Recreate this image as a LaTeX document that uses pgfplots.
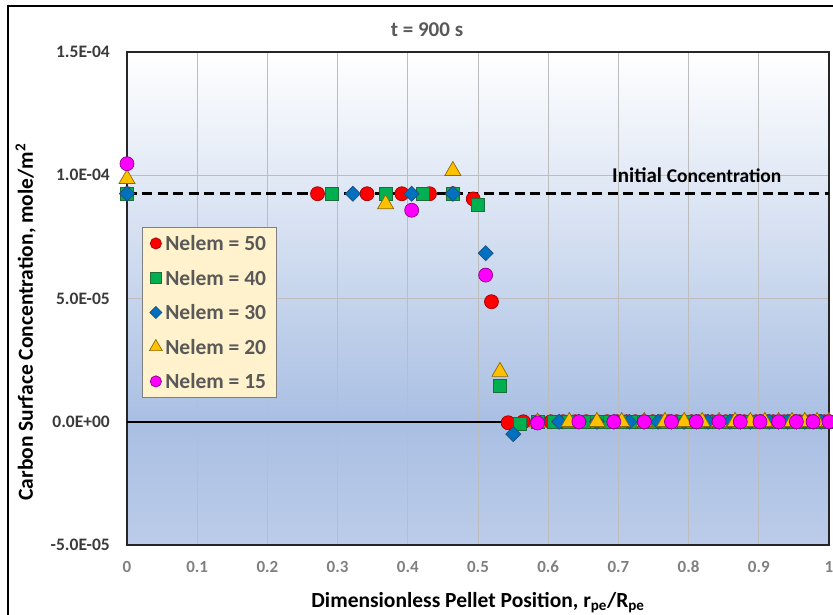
\documentclass[border=0pt]{standalone}
\usepackage{pgfplots}
\pgfplotsset{compat=1.18}
\usepackage{fontspec}
\setmainfont{Carlito}

\definecolor{bgbot}{HTML}{BCCCE9}
\definecolor{bgmid}{HTML}{A9BFE3}
\definecolor{gridgray}{HTML}{BDBDBD}
\definecolor{xtickgray}{HTML}{808080}
\definecolor{ytickgray}{HTML}{3A3A3A}
\definecolor{titlegray}{HTML}{595959}
\definecolor{legendfill}{HTML}{FFF2CC}
\definecolor{legenddraw}{HTML}{7F7F7F}
\definecolor{legendtext}{HTML}{595959}
\definecolor{mred}{HTML}{FF0000}
\definecolor{mredE}{HTML}{A00000}
\definecolor{mgreen}{HTML}{00B050}
\definecolor{mgreenE}{HTML}{1F6B3A}
\definecolor{mblue}{HTML}{0070C0}
\definecolor{mblueE}{HTML}{1F4E79}
\definecolor{myellow}{HTML}{FFC000}
\definecolor{myellowE}{HTML}{8A6A00}
\definecolor{mmag}{HTML}{FF00FF}
\definecolor{mmagE}{HTML}{8B008B}

% plot-area fill: white at the top, deepest blue near the zero line
\pgfdeclareverticalshading{plotbg}{100bp}{color(0bp)=(bgbot); color(25bp)=(bgbot); color(37.5bp)=(bgmid); color(75bp)=(white); color(100bp)=(white)}

\begin{document}
\begin{tikzpicture}
\path[use as bounding box] (-127pt,-69pt) rectangle (706pt,545pt);
\clip (-127pt,-69pt) rectangle (706pt,545pt);
% chart frame
\draw[line width=1.8pt] (-119pt,-120pt) -- (-119pt,539pt) -- (760pt,539pt);

\begin{axis}[
  scale only axis, width=702pt, height=493pt,
  at={(0,0)}, anchor=south west,
  xmin=0, xmax=1, ymin=-5e-5, ymax=1.5e-4,
  xtick={0,0.1,0.2,0.3,0.4,0.5,0.6,0.7,0.8,0.9,1},
  xticklabels={0,0.1,0.2,0.3,0.4,0.5,0.6,0.7,0.8,0.9,1},
  ytick={-5e-5,0,5e-5,1e-4,1.5e-4},
  yticklabels={-5.0E-05,0.0E+00,5.0E-05,1.0E-04,1.5E-04},
  scaled x ticks=false, scaled y ticks=false,
  major tick length=0pt,
  grid=major,
  major grid style={line width=0.8pt, color=gridgray},
  axis line style={line width=1.6pt, black!85},
  axis background/.style={shading=plotbg},
  xticklabel style={font=\fontsize{17}{20}\selectfont\bfseries, text=xtickgray, anchor=base, inner sep=0pt, yshift=-27pt},
  yticklabel style={font=\fontsize{17.5}{20}\selectfont\bfseries, text=ytickgray, anchor=east, inner sep=0pt, xshift=-17pt},
  clip=false,
  legend cell align=left,
  legend style={at={(0.0214,0.645)}, anchor=north west,
    fill=legendfill, draw=legenddraw, line width=0.8pt,
    font=\fontsize{21.5}{24}\selectfont\bfseries, text=legendtext,
    inner xsep=7pt, inner ysep=6.5pt, row sep=15.5pt,
    nodes={inner xsep=3pt, inner ysep=2pt, text height=15pt, text depth=0pt}},
  legend image code/.code={\path (-6pt,0pt) (6pt,0pt);
    \draw[#1, /tikz/every mark/.append style={scale=0.8}] plot coordinates {(0pt,0pt)};},
]

% zero line and initial concentration
\addplot[black, line width=2pt, forget plot] coordinates {(0,0) (1,0)};
\addplot[black, line width=3pt, dash pattern=on 10pt off 5.5pt, forget plot] coordinates {(0,9.25e-5) (1,9.25e-5)};

% Nelem = 50
\addplot[only marks, mark=*, mark size=7pt, mark options={fill=mred, draw=mredE, line width=0.7pt}] coordinates {
(0,9.25e-5) (0.2714,9.25e-5) (0.3420,9.25e-5) (0.3915,9.25e-5) (0.4309,9.25e-5)
(0.4642,9.25e-5) (0.4932,9.04e-5) (0.5192,4.87e-5) (0.5429,-4e-7) (0.5646,0)
(0.5848,0) (0.6037,0) (0.6214,0) (0.6383,0) (0.6542,0) (0.6694,0) (0.6840,0)
(0.6980,0) (0.7114,0) (0.7243,0) (0.7368,0) (0.7489,0) (0.7606,0) (0.7719,0)
(0.7830,0) (0.7937,0) (0.8041,0) (0.8143,0) (0.8243,0) (0.8340,0) (0.8434,0)
(0.8527,0) (0.8618,0) (0.8707,0) (0.8794,0) (0.8879,0) (0.8963,0) (0.9045,0)
(0.9126,0) (0.9205,0) (0.9283,0) (0.9360,0) (0.9435,0) (0.9510,0) (0.9583,0)
(0.9655,0) (0.9726,0) (0.9796,0) (0.9865,0) (0.9933,0) (1,0)};
\addlegendentry{Nelem = 50}

% Nelem = 40
\addplot[only marks, mark=square*, mark size=6.5pt, mark options={fill=mgreen, draw=mgreenE, line width=0.7pt}] coordinates {
(0,9.25e-5) (0.2924,9.25e-5) (0.3684,9.25e-5) (0.4217,9.25e-5) (0.4642,9.25e-5)
(0.5,8.79e-5) (0.5313,1.46e-5) (0.5593,-1.0e-6) (0.5848,0) (0.6082,0) (0.6300,0)
(0.6503,0) (0.6694,0) (0.6875,0) (0.7047,0) (0.7211,0) (0.7368,0) (0.7518,0)
(0.7663,0) (0.7802,0) (0.7937,0) (0.8067,0) (0.8193,0) (0.8316,0) (0.8434,0)
(0.8550,0) (0.8662,0) (0.8772,0) (0.8879,0) (0.8984,0) (0.9086,0) (0.9186,0)
(0.9283,0) (0.9379,0) (0.9473,0) (0.9565,0) (0.9655,0) (0.9743,0) (0.9830,0)
(0.9916,0) (1,0)};
\addlegendentry{Nelem = 40}

% Nelem = 30
\addplot[only marks, mark=square*, mark size=5.3pt, mark options={rotate=45, fill=mblue, draw=mblueE, line width=0.7pt}] coordinates {
(0,9.25e-5) (0.3218,9.25e-5) (0.4055,9.25e-5) (0.4642,9.25e-5) (0.5109,6.84e-5)
(0.5503,-5.0e-6) (0.5848,0) (0.6156,0) (0.6437,0) (0.6694,0) (0.6934,0)
(0.7158,0) (0.7368,0) (0.7566,0) (0.7756,0) (0.7937,0) (0.8109,0) (0.8277,0)
(0.8434,0) (0.8587,0) (0.8736,0) (0.8879,0) (0.9017,0) (0.9152,0) (0.9283,0)
(0.9410,0) (0.9535,0) (0.9655,0) (0.9773,0) (0.9888,0) (1,0)};
\addlegendentry{Nelem = 30}

% Nelem = 20
\addplot[only marks, mark=triangle*, mark size=9.3pt, mark options={fill=myellow, draw=myellowE, line width=0.7pt}] coordinates {
(0,9.85e-5) (0.3684,8.83e-5) (0.4642,1.018e-4) (0.5313,2.03e-5) (0.5848,-3e-7)
(0.6300,0) (0.6694,0) (0.7047,0) (0.7368,0) (0.7663,0) (0.7937,0) (0.8193,0)
(0.8434,0) (0.8662,0) (0.8879,0) (0.9086,0) (0.9283,0) (0.9473,0) (0.9655,0)
(0.9830,0) (1,0)};
\addlegendentry{Nelem = 20}

% Nelem = 15
\addplot[only marks, mark=*, mark size=7pt, mark options={fill=mmag, draw=mmagE, line width=0.7pt}] coordinates {
(0,1.047e-4) (0.4055,8.58e-5) (0.5109,5.95e-5) (0.5848,-5e-7) (0.6437,0)
(0.6934,0) (0.7368,0) (0.7756,0) (0.8109,0) (0.8434,0) (0.8736,0) (0.9017,0)
(0.9283,0) (0.9535,0) (0.9773,0) (1,0)};
\addlegendentry{Nelem = 15}
\end{axis}

% titles and annotations
\node[anchor=base, text=titlegray, font=\fontsize{21}{24}\selectfont\bfseries] at (300pt,508pt) {t = 900 s};
\node[anchor=base west, inner sep=0pt, font=\bfseries] at (485pt,362pt)
  {\fontsize{21}{24}\selectfont Initial {\fontsize{19.5}{22}\selectfont Concentration}};
\node[anchor=base, rotate=90, inner sep=0pt, font=\fontsize{21.5}{24}\selectfont\bfseries] at (-94pt,223pt)
  {Carbon Surface Concentration, mole/m\textsuperscript{2}};
\node[anchor=base, inner sep=0pt, font=\fontsize{21.5}{24}\selectfont\bfseries] at (351pt,-62.5pt)
  {Dimensionless Pellet Position, r\textsubscript{pe}/R\textsubscript{pe}};
\end{tikzpicture}
\end{document}
